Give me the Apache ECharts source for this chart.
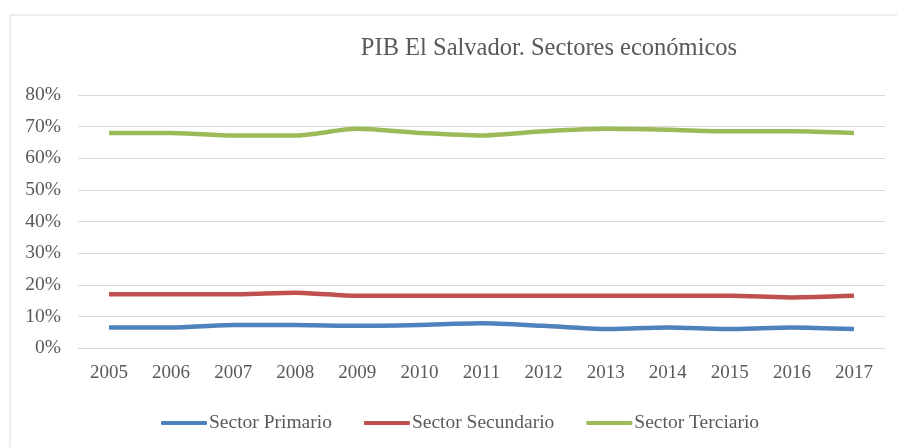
<!DOCTYPE html>
<html><head><meta charset="utf-8">
<script src="https://cdn.jsdelivr.net/npm/echarts@6/dist/echarts.min.js"></script>
<style>html,body{margin:0;padding:0;background:#fff}#c{width:897px;height:447px}</style>
</head><body><div id="c"></div>
<script>
const years = ['2005','2006','2007','2008','2009','2010','2011','2012','2013','2014','2015','2016','2017'];
const primario = [6.5, 6.5, 7.3, 7.3, 7.0, 7.3, 7.8, 7.0, 6.0, 6.5, 6.0, 6.5, 6.0];
const secundario = [17.0, 17.0, 17.0, 17.5, 16.5, 16.5, 16.5, 16.5, 16.5, 16.5, 16.5, 16.0, 16.5];
const terciario = [68.0, 68.0, 67.2, 67.2, 69.3, 68.0, 67.2, 68.5, 69.3, 69.0, 68.5, 68.5, 68.0];
const seriesNames = ['Sector Primario','Sector Secundario','Sector Terciario'];
const colors = ['#4F81BD','#C0504D','#9BBB59'];
const font = '"Liberation Serif", "DejaVu Serif", serif';

const chart = echarts.init(document.getElementById('c'));
const mk = (name, data, color) => ({
  name, type: 'line', data, smooth: 0.25, symbol: 'none',
  lineStyle: {width: 4.5, color}, itemStyle: {color}
});
chart.setOption({
  animation: false,
  graphic: [{type: 'rect', shape: {x: 10, y: 15, width: 1000, height: 1000},
    style: {fill: 'none', stroke: '#d9d9d9', lineWidth: 1}, silent: true}],
  title: {text: 'PIB El Salvador. Sectores económicos', left: 544, top: 31, textAlign: 'center',
    textStyle: {fontFamily: font, fontSize: 24.5, fontWeight: 'normal', color: '#595959'}},
  legend: {top: 408, left: 156, itemWidth: 46, itemHeight: 4, itemGap: 32,
    icon: 'roundRect',
    textStyle: {fontFamily: font, fontSize: 19.5, color: '#595959', padding: [0,0,0,-3]}},
  grid: {left: 78, right: 12, top: 95, bottom: 99},
  xAxis: {type: 'category', data: years, boundaryGap: true,
    axisLine: {lineStyle: {color: '#d9d9d9'}}, axisTick: {show: false},
    axisLabel: {fontFamily: font, fontSize: 19, color: '#595959', margin: 16}},
  yAxis: {type: 'value', min: 0, max: 80, interval: 10,
    axisLabel: {formatter: '{value}%', fontFamily: font, fontSize: 19.5, color: '#595959', margin: 17,
      padding: [4,0,0,0]},
    splitLine: {lineStyle: {color: '#d9d9d9'}}, axisLine: {show: false}, axisTick: {show: false}},
  series: [mk(seriesNames[0], primario, colors[0]), mk(seriesNames[1], secundario, colors[1]), mk(seriesNames[2], terciario, colors[2])]
});
</script></body></html>
